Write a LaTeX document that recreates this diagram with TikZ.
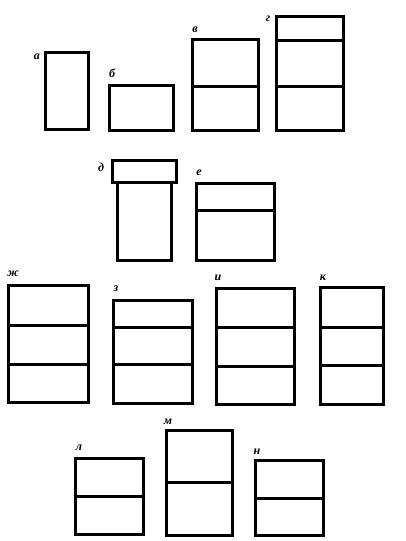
\documentclass[tikz,border=0pt]{standalone}
\usepackage{fontspec}
\setmainfont{Liberation Serif}
\usepackage{tikz}

\tikzset{box/.style={draw, line width=3pt, line join=miter},
    lbl/.style={font=\bfseries\itshape\fontsize{12}{12}\selectfont, inner sep=0pt}}

\begin{document}
\begin{tikzpicture}[x=1pt, y=-1pt]
    \useasboundingbox (0,0) rectangle (406,541);

    % top row
    \draw[box] (45,52) rectangle (88,129);
    \node[lbl] (la) at (37,57) {а};

    \draw[box] (109,85) rectangle (173,130);
    \node[lbl] (lb) at (112,73) {б};

    \draw[box] (192,39) rectangle (258,130);
    \draw[box] (192,86) -- (258,86);
    \node[lbl] (lv) at (195,30) {в};

    \draw[box] (276,16) rectangle (343,130);
    \draw[box] (276,40) -- (343,40);
    \draw[box] (276,86) -- (343,86);
    \node[lbl] (lg) at (268,19) {г};

    % second row
    \draw[box] (117,182) rectangle (171,260);
    \draw[box] (112,160) rectangle (176,182);
    \node[lbl] (ld) at (101,167) {д};

    \draw[box] (196,183) rectangle (274,260);
    \draw[box] (196,210) -- (274,210);
    \node[lbl] (le) at (199,173) {е};

    % third row
    \draw[box] (8,285) rectangle (88,402);
    \draw[box] (8,325) -- (88,325);
    \draw[box] (8,364) -- (88,364);
    \node[lbl] (lzh) at (13,274) {ж};

    \draw[box] (113,300) rectangle (192,403);
    \draw[box] (113,327) -- (192,327);
    \draw[box] (113,364) -- (192,364);
    \node[lbl] (lz) at (116,289) {з};

    \draw[box] (216,288) rectangle (294,404);
    \draw[box] (216,327) -- (294,327);
    \draw[box] (216,366) -- (294,366);
    \node[lbl] (li) at (218,278) {и};

    \draw[box] (320,287) rectangle (383,404);
    \draw[box] (320,327) -- (383,327);
    \draw[box] (320,365) -- (383,365);
    \node[lbl] (lk) at (323,278) {к};

    % bottom row
    \draw[box] (75,458) rectangle (143,534);
    \draw[box] (75,496) -- (143,496);
    \node[lbl] (ll) at (79,448) {л};

    \draw[box] (166,430) rectangle (232,535);
    \draw[box] (166,482) -- (232,482);
    \node[lbl] (lm) at (168,422) {м};

    \draw[box] (255,460) rectangle (323,535);
    \draw[box] (255,498) -- (323,498);
    \node[lbl] (ln) at (257,452) {н};
\end{tikzpicture}
\end{document}
